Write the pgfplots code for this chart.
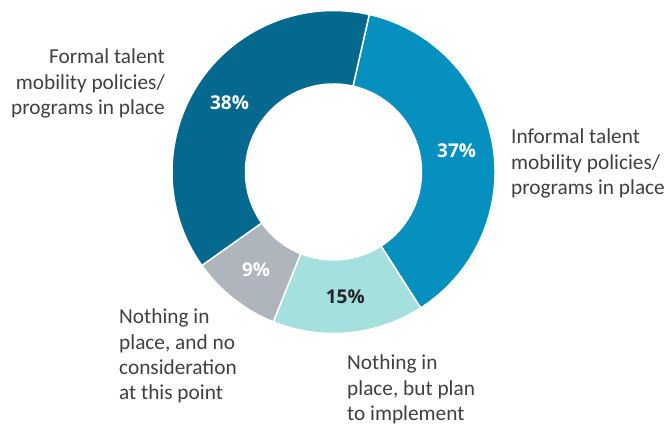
\documentclass[border=0pt]{standalone}
\usepackage{fontspec}
\setmainfont{Carlito}
\newfontfamily\pctfamily{Open Sans}
\usepackage{pgfplots}
\usepackage{pgfplotstable}
\pgfplotsset{compat=1.18}

\definecolor{cInf}{HTML}{0590C0}
\definecolor{cPlan}{HTML}{A3E0DE}
\definecolor{cNone}{HTML}{AEB5BC}
\definecolor{cForm}{HTML}{05698F}
\definecolor{labgray}{HTML}{404040}
\definecolor{darktxt}{HTML}{262626}

\newcommand\pctfont{\pctfamily\bfseries\fontsize{19}{19}\selectfont}
\newcommand\labfont{\fontsize{21.3}{25.3}\selectfont}

% slices clockwise from the top
\pgfplotstableread{
name share fill text
Informal 37 cInf white
Plan 15 cPlan darktxt
None 9 cNone white
Formal 38 cForm white
}\donut

\begin{document}
\begin{tikzpicture}
\path[use as bounding box] (0,0) rectangle (667pt,425pt);
\begin{axis}[
    width=667pt, height=425pt, scale only axis,
    xmin=0, xmax=667, ymin=0, ymax=425,
    hide axis, clip=false,
]
\pgfplotsextra{%
  \xdef\tot{0}%
  \pgfplotstableforeachcolumnelement{share}\of\donut\as\v{%
    \pgfmathsetmacro\t{\tot+\v}\xdef\tot{\t}}%
  \xdef\ang{77.2}%
  \pgfplotstableforeachcolumnelement{share}\of\donut\as\v{%
    \pgfplotstablegetelem{\pgfplotstablerow}{fill}\of\donut\let\fc\pgfplotsretval
    \pgfplotstablegetelem{\pgfplotstablerow}{text}\of\donut\let\tc\pgfplotsretval
    \pgfmathsetmacro\angb{\ang-360*\v/\tot}%
    \pgfmathsetmacro\angm{(\ang+\angb)/2}%
    \fill[fill=\fc, draw=white, line width=1.5pt, shift={(axis cs:333.5,253)}]
      (\ang:161.5pt) arc[start angle=\ang, end angle=\angb, radius=161.5pt]
      -- (\angb:88pt) arc[start angle=\angb, end angle=\ang, radius=88pt] -- cycle;
    \node[text=\tc, font=\pctfont] at ([shift={(\angm:125pt)}]axis cs:333.5,253) {\v\%};
    \xdef\ang{\angb}%
  }%
}
\node[anchor=north east, align=right, inner sep=0, text=labgray, font=\labfont]
  at (axis cs:165,376) {Formal talent\\mobility policies/\\programs in place};
\node[anchor=north west, align=left, inner sep=0, text=labgray, font=\labfont]
  at (axis cs:511,296) {Informal talent\\mobility policies/\\programs in place};
\node[anchor=north west, align=left, inner sep=0, text=labgray, font=\labfont]
  at (axis cs:119,116) {Nothing in\\place, and no\\consideration\\at this point};
\node[anchor=north west, align=left, inner sep=0, text=labgray, font=\labfont]
  at (axis cs:347,70) {Nothing in\\place, but plan\\to implement};
\end{axis}
\end{tikzpicture}
\end{document}
